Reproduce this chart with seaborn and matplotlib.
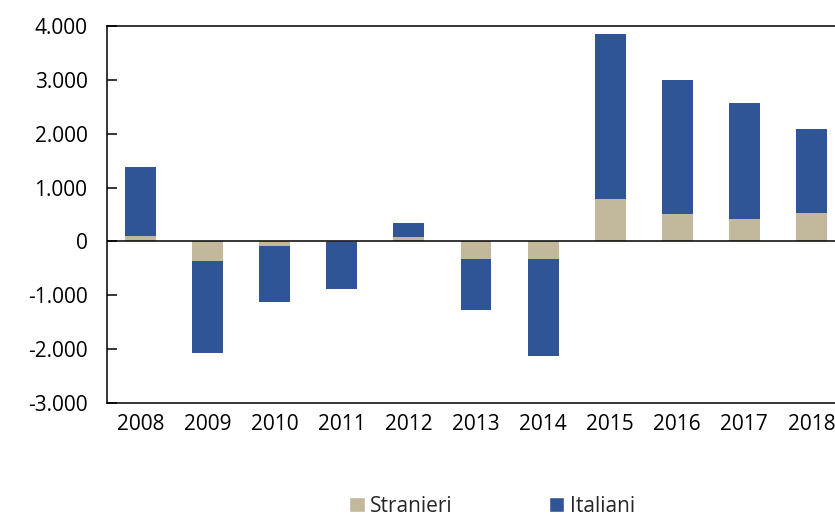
import numpy as np
import pandas as pd
import seaborn as sns
import matplotlib.pyplot as plt
import matplotlib.ticker as ticker
from matplotlib.patches import Patch

##### Data

anni = ['2008', '2009', '2010', '2011', '2012', '2013',
        '2014', '2015', '2016', '2017', '2018']
stranieri = [100, -364, -86, -10, 76, -333, -333, 782, 509, 422, 533]
italiani = [1290, -1714, -1045, -880, 260, -941, -1800, 3063, 2494, 2148, 1554]

col_stranieri = '#C2B89C'
col_italiani = '#2F5597'

df = pd.DataFrame({'Anno': anni, 'Stranieri': stranieri, 'Italiani': italiani})
# stacked: total first (blue), stranieri drawn over it from zero
df['Totale'] = df['Stranieri'] + df['Italiani']

##### Plot

sns.set_style('white')
plt.rcParams['font.family'] = ['Open Sans', 'DejaVu Sans']

fig = plt.figure(figsize=(8.35, 5.15), dpi=100)
ax = fig.add_axes([107 / 835, 1 - 403 / 515, 738 / 835, 377 / 515])

sns.barplot(x='Anno', y='Totale', data=df, color=col_italiani,
            width=0.46, saturation=1, edgecolor='none', ax=ax, zorder=2)
sns.barplot(x='Anno', y='Stranieri', data=df, color=col_stranieri,
            width=0.46, saturation=1, edgecolor='none', ax=ax, zorder=3)

ax.axhline(0, color='black', lw=1.1, zorder=4)

ax.set_ylim(-3000, 4000)
ax.set_xlim(-0.5, len(anni) - 0.5)
ax.yaxis.set_major_locator(ticker.MultipleLocator(1000))
ax.yaxis.set_major_formatter(
    ticker.FuncFormatter(lambda v, p: f'{v:,.0f}'.replace(',', '.')))

ax.set_xlabel('')
ax.set_ylabel('')

for s in ['top', 'bottom', 'left']:
    ax.spines[s].set_visible(True)
    ax.spines[s].set_color('black')
    ax.spines[s].set_linewidth(1.1)
ax.spines['right'].set_visible(False)

ax.tick_params(axis='y', direction='in', length=7, width=1.1,
               pad=14, labelsize=15, left=True, colors='black')
ax.tick_params(axis='x', length=0, pad=8, labelsize=15, colors='black')

handles = [Patch(facecolor=col_stranieri, label='Stranieri'),
           Patch(facecolor=col_italiani, label='Italiani')]
fig.legend(handles=handles, loc='center', ncol=2,
           bbox_to_anchor=(492 / 835, 1 - 506 / 515),
           frameon=False, fontsize=15, handlelength=0.75,
           handleheight=0.75, handletextpad=0.25, columnspacing=4.6)

plt.savefig('out.png', dpi=100)
